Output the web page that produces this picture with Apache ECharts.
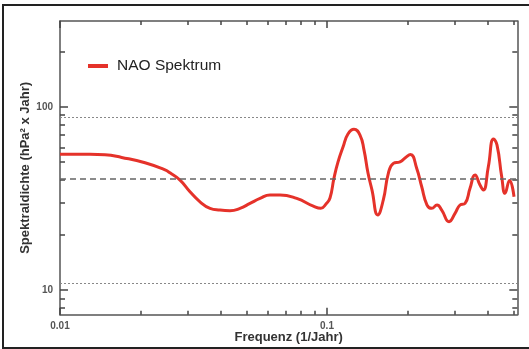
<!DOCTYPE html>
<html><head><meta charset="utf-8">
<script src="https://cdn.jsdelivr.net/npm/echarts@6/dist/echarts.min.js"></script>
<style>
html,body{margin:0;padding:0;background:#fff;}
#chart{position:absolute;left:0;top:0;width:529px;height:349px;}
#frame{position:absolute;left:2px;top:4px;width:527px;height:345px;border-left:2.5px solid #222;border-top:2.5px solid #222;border-bottom:2.5px solid #222;box-sizing:border-box;pointer-events:none;}
</style></head><body>
<div id="chart"></div><div id="frame"></div>
<script>
// Frequency (1/Jahr)
const frequency = [0.0100,0.01295,0.01474,0.01702,0.02082,0.02474,0.02582,0.02815,0.03068,0.03345,0.03646,0.03974,0.04332,0.04722,0.05147,0.05612,0.06116,0.06668,0.0770,0.08887,0.09471,0.09915,0.1026,0.1062,0.1099,0.1148,0.1198,0.1262,0.1329,0.1376,0.1424,0.1474,0.1549,0.1625,0.1697,0.1772,0.1877,0.1960,0.2054,0.2168,0.2263,0.2369,0.2467,0.2582,0.2689,0.2864,0.3016,0.3149,0.3288,0.3433,0.3584,0.3741,0.3849,0.4019,0.4203,0.4332,0.4511,0.4642,0.4825,0.5016];
// NAO Spektrum (hPa^2 x Jahr)
const naoSpectrum = [55.0,55.0,54.7,52.9,49.5,45.2,43.6,39.8,34.4,30.3,27.9,27.3,27.1,27.9,29.7,31.6,33.0,33.0,31.6,28.7,27.9,29.5,31.8,40.8,49.9,60.3,71.0,75.3,70.1,58.0,43.5,35.1,25.7,31.0,43.3,49.1,50.1,52.5,54.9,46.1,36.6,29.1,27.9,29.1,27.3,23.6,26.2,29.1,29.7,35.9,42.4,37.4,35.1,47.1,66.7,61.8,41.5,33.7,39.6,32.3];
const upperBound = 88;
const meanLevel = 40.3;
const lowerBound = 10.9;
const xMajorTicks = [0.01, 0.1];
const xMajorLabels = ['0.01', '0.1'];
const xMinorTicks = [0.02,0.03,0.04,0.05,0.06,0.07,0.08,0.09,0.2,0.3,0.4,0.5];
const yMajorTicks = [10, 100];
const yMajorLabels = ['10', '100'];
const yMinorTicks = [8,9,20,30,40,50,60,70,80,90,200];
const seriesName = 'NAO Spektrum';

const FONT = '"Liberation Sans", Arial, Helvetica, sans-serif';
const xMin = 0.01, xMax = 0.516, yMin = 7.33, yMax = 294;
const lineCol = '#555', tickCol = '#444';

function makeAxis(range, pos, ticks, len, showLine, labels, margin) {
  const a = {
    type: 'log', logBase: 10, min: range[0], max: range[1], position: pos, gridIndex: 0,
    splitLine: {show: false},
    nameMoveOverlap: false,
    axisLine: {show: showLine, lineStyle: {color: lineCol, width: 1.5}},
    axisTick: {show: true, inside: true, length: len, customValues: ticks, lineStyle: {color: tickCol, width: 1.5}},
    axisLabel: {show: false}
  };
  if (labels) {
    a.axisLabel = {show: true, customValues: ticks, margin: margin, color: '#555', fontSize: 10, fontWeight: 'bold', fontFamily: FONT,
      formatter: v => { const i = ticks.findIndex(t => Math.abs(t - v) / t < 1e-6); return i >= 0 ? labels[i] : ''; }};
  }
  return a;
}

const xr = [xMin, xMax], yr = [yMin, yMax];
const xBottom = makeAxis(xr, 'bottom', xMajorTicks, 7, true, xMajorLabels, 7);
xBottom.name = 'Frequenz (1/Jahr)';
xBottom.nameLocation = 'middle';
xBottom.nameGap = 16;
xBottom.nameTextStyle = {color: '#333', fontSize: 13, fontWeight: 'bold', fontFamily: FONT};
const yLeft = makeAxis(yr, 'left', yMajorTicks, 8, true, yMajorLabels, 7);
yLeft.name = 'Spektraldichte (hPa² x Jahr)';
yLeft.nameLocation = 'middle';
yLeft.nameGap = 28;
yLeft.nameTextStyle = {color: '#333', fontSize: 13, fontWeight: 'bold', fontFamily: FONT};

const chart = echarts.init(document.getElementById('chart'), null, {renderer: 'canvas'});
chart.setOption({
  animation: false,
  backgroundColor: '#fff',
  grid: {left: 60, top: 21, right: 11.7, bottom: 34.3, containLabel: false, outerBoundsMode: 'none'},
  legend: {
    data: [seriesName], left: 83, top: 53, icon: 'rect', itemWidth: 20, itemHeight: 4, itemGap: 0,
    textStyle: {color: '#222', fontSize: 15.5, fontFamily: FONT, padding: [0, 0, 0, 4]}
  },
  xAxis: [
    xBottom,
    makeAxis(xr, 'bottom', xMinorTicks, 4, false),
    makeAxis(xr, 'top', xMajorTicks, 7, true),
    makeAxis(xr, 'top', xMinorTicks, 4, false)
  ],
  yAxis: [
    yLeft,
    makeAxis(yr, 'left', yMinorTicks, 5, false),
    makeAxis(yr, 'right', yMajorTicks, 8, true),
    makeAxis(yr, 'right', yMinorTicks, 5, false)
  ],
  series: [{
    name: seriesName, type: 'line', xAxisIndex: 0, yAxisIndex: 0,
    data: frequency.map((f, i) => [f, naoSpectrum[i]]),
    smooth: 0.5, showSymbol: false, symbol: 'none',
    lineStyle: {color: '#e5322a', width: 3},
    itemStyle: {color: '#e5322a'},
    markLine: {
      silent: true, symbol: 'none', label: {show: false}, animation: false,
      data: [
        {yAxis: upperBound, lineStyle: {type: [2, 2], color: '#888', width: 1.2}},
        {yAxis: meanLevel, lineStyle: {type: [6, 4], color: '#666', width: 1.6}},
        {yAxis: lowerBound, lineStyle: {type: [2, 2], color: '#888', width: 1.2}}
      ]
    }
  }]
});
</script>
</body></html>
